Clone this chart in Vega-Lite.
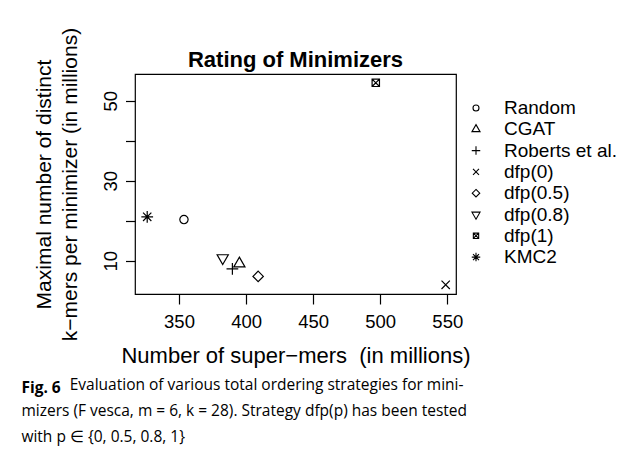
{
  "$schema": "https://vega.github.io/schema/vega-lite/v6.json",
  "background": "white",
  "padding": {"left": 21, "top": 26, "right": 5, "bottom": 5},
  "config": {
    "font": "Liberation Sans",
    "view": {"stroke": "black", "strokeWidth": 1.2}
  },
  "title": {
    "text": "Fig. 6",
    "subtitle": [
      "\u200d\u00a0\u00a0\u00a0\u00a0\u00a0\u00a0\u00a0\u00a0\u00a0\u00a0\u00a0\u00a0Evaluation of various total ordering strategies for mini-",
      "mizers (F vesca, m = 6, k = 28). Strategy dfp(p) has been tested",
      "with p \u2208 {0, 0.5, 0.8, 1}"
    ],
    "orient": "bottom",
    "anchor": "start",
    "font": "Open Sans",
    "fontSize": 15.5,
    "fontWeight": "bold",
    "color": "black",
    "subtitleFont": "Open Sans",
    "subtitleFontSize": 15.5,
    "subtitleColor": "black",
    "subtitleLineHeight": 26,
    "subtitlePadding": -18.5,
    "offset": 14,
    "dx": -11
  },
  "vconcat": [
    {
      "width": 321,
      "height": 220,
      "title": {
        "text": "Rating of Minimizers",
        "fontSize": 22,
        "fontWeight": "bold",
        "color": "black",
        "frame": "group",
        "anchor": "middle",
        "offset": 8,
        "dy": 53
      },
      "data": {
        "values": [
          {"strategy": "Random", "supermers": 353.7, "kmers": 20.3},
          {"strategy": "CGAT", "supermers": 395.0, "kmers": 9.3},
          {"strategy": "Roberts et al.", "supermers": 389.8, "kmers": 8.0},
          {"strategy": "dfp(0)", "supermers": 548.8, "kmers": 4.0},
          {"strategy": "dfp(0.5)", "supermers": 409.0, "kmers": 6.1},
          {"strategy": "dfp(0.8)", "supermers": 382.6, "kmers": 10.7},
          {"strategy": "dfp(1)", "supermers": 496.7, "kmers": 54.5},
          {"strategy": "KMC2", "supermers": 326.3, "kmers": 21.0}
        ]
      },
      "mark": {"type": "point", "filled": false, "color": "black", "strokeWidth": 1.2, "size": 69, "opacity": 1},
      "encoding": {
        "x": {
          "field": "supermers",
          "type": "quantitative",
          "scale": {"domain": [317.2, 556.5], "nice": false, "zero": false},
          "axis": {
            "values": [350, 400, 450, 500, 550],
            "domain": false,
            "grid": false,
            "tickSize": 10,
            "tickColor": "black",
            "tickWidth": 1.2,
            "labelFontSize": 18.5,
            "labelColor": "black",
            "labelPadding": 8.5,
            "labelFlush": false,
            "title": "Number of super\u2212mers\u00a0 (in millions)",
            "titleFontSize": 22,
            "titleFontWeight": "normal",
            "titleColor": "black",
            "titleX": 160.5,
            "titleY": 68,
            "titleAlign": "center",
            "titleBaseline": "alphabetic"
          }
        },
        "y": {
          "field": "kmers",
          "type": "quantitative",
          "scale": {"domain": [1.7, 56.7], "nice": false, "zero": false},
          "axis": {
            "values": [10, 20, 30, 40, 50],
            "labelExpr": "datum.value % 20 == 10 ? datum.label : ''",
            "domain": false,
            "grid": false,
            "tickSize": 9.5,
            "tickColor": "black",
            "tickWidth": 1.2,
            "labelFontSize": 18.5,
            "labelColor": "black",
            "labelAngle": -90,
            "labelAlign": "center",
            "labelBaseline": "alphabetic",
            "labelPadding": 9.5,
            "labelFlush": false,
            "title": ["Maximal number of distinct", "k\u2212mers per minimizer (in millions)"],
            "titleFontSize": 21,
            "titleFontWeight": "normal",
            "titleColor": "black",
            "titleAngle": -90,
            "titleX": -85,
            "titleY": 110,
            "titleAlign": "center",
            "titleBaseline": "alphabetic",
            "titleLineHeight": 26
          }
        },
        "shape": {
          "field": "strategy",
          "type": "nominal",
          "scale": {
            "domain": ["Random", "CGAT", "Roberts et al.", "dfp(0)", "dfp(0.5)", "dfp(0.8)", "dfp(1)", "KMC2"],
            "range": [
              "circle",
              "M0,-1.555L1.347,0.778L-1.347,0.778Z",
              "M-1.414,0H1.414M0,-1.414V1.414",
              "M-1,-1L1,1M-1,1L1,-1",
              "M0,-1.253L1.253,0L0,1.253L-1.253,0Z",
              "M0,1.555L1.347,-0.778L-1.347,-0.778Z",
              "M-0.886,-0.886H0.886V0.886H-0.886ZM-0.886,-0.886L0.886,0.886M-0.886,0.886L0.886,-0.886",
              "M-1,-1L1,1M-1,1L1,-1M-1.414,0H1.414M0,-1.414V1.414"
            ]
          },
          "legend": {
            "orient": "none",
            "legendX": 331.5,
            "legendY": 24.5,
            "title": null,
            "labelFontSize": 19,
            "labelColor": "black",
            "labelOffset": 18.5,
            "rowPadding": 1.3,
            "symbolSize": 36,
            "symbolStrokeColor": "black",
            "symbolFillColor": "transparent",
            "symbolStrokeWidth": 1.1,
            "symbolOpacity": 1
          }
        }
      }
    }
  ]
}
